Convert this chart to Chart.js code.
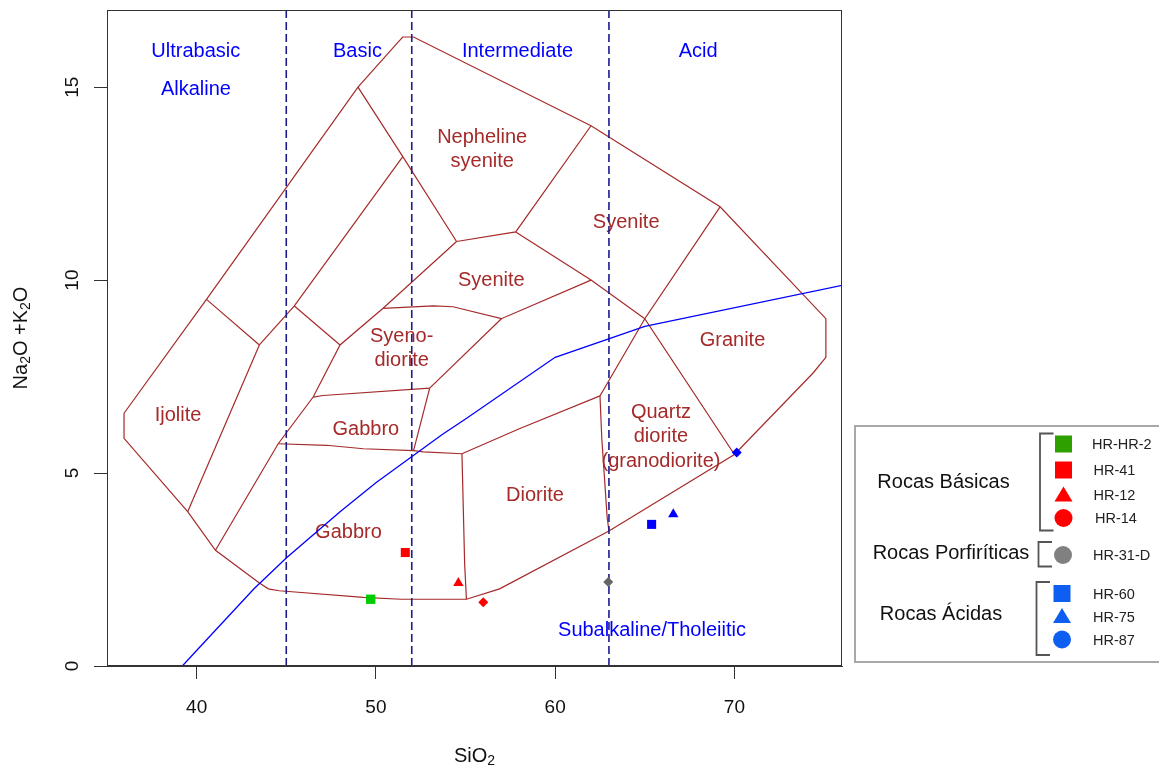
<!DOCTYPE html>
<html><head><meta charset="utf-8">
<script src="https://cdn.jsdelivr.net/npm/chart.js@4.4.1/dist/chart.umd.min.js"></script>
<style>html,body{margin:0;padding:0;background:#fff;overflow:hidden}</style>
</head><body>
<canvas id="c" width="1159" height="770"></canvas>
<script>
// ---------- axis ticks ----------
const xTicks = [40, 50, 60, 70];
const yTicks = [0, 5, 10, 15];
const divisionSiO2 = [45, 52, 63];

// ---------- samples ----------
const sampleNames = ['HR-HR-2', 'HR-41', 'HR-12', 'HR-14', 'HR-31-D', 'HR-60', 'HR-75', 'HR-87'];
const sampleSiO2 = [49.71, 51.64, 54.60, 55.99, 62.96, 65.38, 66.59, 70.13];
const sampleAlk  = [1.73, 2.94, 2.15, 1.65, 2.18, 3.67, 3.93, 5.53];

// ---------- Irvine & Baragar alkaline / subalkaline line ----------
const ibSiO2 = [39.2, 40, 43.2, 45, 48, 50, 53.7, 55, 60, 65, 77.4];
const ibAlk  = [0, 0.4, 2, 2.8, 4, 4.75, 6, 6.4, 8, 8.8, 10];

// ---------- field boundaries (SiO2, Na2O+K2O) ----------
const outerBoundary = [[35.95,6.55],[35.95,5.9],[39.5,4.0],[41.05,3.0],[43.5,2.15],[44.0,2.0],[44.6,1.95],[49.3,1.78],[51.4,1.73],[55.05,1.73],[56.9,2.0],[63.0,3.5],[70.0,5.48],[74.4,7.6],[75.1,8.0],[75.1,9.0],[69.2,11.9],[62.0,14.0],[52.1,16.3],[51.5,16.3],[51.2,16.15],[49.0,15.0],[40.55,9.5],[35.95,6.55]];
const ijoliteTop = [[40.55,9.5],[43.5,8.32]];
const ijoliteRight = [[43.5,8.32],[39.5,4.0]];
const foidLine = [[51.5,13.2],[45.45,9.33],[43.5,8.32]];
const foidInner = [[45.45,9.33],[48.0,8.32]];
const nephelineLeft = [[49.0,15.0],[51.5,13.2],[54.5,11.0]];
const nephelineBottom = [[54.5,11.0],[57.8,11.25],[62.0,14.0]];
const syeniteBottom = [[57.8,11.25],[62.0,10.0],[65.0,9.0]];
const syeniteRight = [[69.2,11.9],[65.0,9.0],[70.0,5.48]];
const syenodioriteLeft = [[54.5,11.0],[50.4,9.27],[48.0,8.32],[46.5,6.97],[44.55,5.76],[41.05,3.0]];
const syenodioriteTop = [[50.4,9.27],[53.2,9.33],[54.3,9.31],[57.0,9.0],[62.0,10.0]];
const syenodioriteRight = [[57.0,9.0],[53.0,7.2]];
const gabbroTop = [[46.5,6.97],[47.05,7.01],[53.0,7.2]];
const gabbroRight = [[53.0,7.2],[52.1,5.58]];
const gabbroBottom = [[44.55,5.76],[47.25,5.72],[49.3,5.63],[52.1,5.58],[52.65,5.55],[54.8,5.5]];
const dioriteLeft = [[54.8,5.5],[54.95,2.65],[55.05,1.73]];
const dioriteTop = [[54.8,5.5],[58.0,6.15],[62.5,7.0]];
const quartzDioriteLeft = [[65.0,9.0],[63.0,7.4],[62.5,7.0],[62.6,5.9],[62.9,3.85],[63.0,3.5]];

const boundaries = [outerBoundary, ijoliteTop, ijoliteRight, foidLine, foidInner, nephelineLeft, nephelineBottom,
  syeniteBottom, syeniteRight, syenodioriteLeft, syenodioriteTop, syenodioriteRight, gabbroTop, gabbroRight,
  gabbroBottom, dioriteLeft, dioriteTop, quartzDioriteLeft];

// ---------- text ----------
const fieldNames = ['Ijolite', 'Nepheline\nsyenite', 'Syenite', 'Syenite', 'Syeno-\ndiorite', 'Gabbro', 'Gabbro', 'Diorite', 'Quartz\ndiorite\n(granodiorite)', 'Granite'];
const zoneNames = ['Ultrabasic', 'Alkaline', 'Basic', 'Intermediate', 'Acid', 'Subalkaline/Tholeiitic'];
const groupNames = ['Rocas Básicas', 'Rocas Porfiríticas', 'Rocas Ácidas'];

// ---------- styles / layout (not data) ----------
const FONT = '"Liberation Sans", Arial, Helvetica, sans-serif';
const BROWN = '#A52A2A';
const fieldLabelPos = [[38.96,6.5],[55.93,13.39],[63.96,11.49],[56.44,10.0],[51.44,8.23],[49.44,6.12],[48.47,3.45],[58.87,4.43],[65.9,5.94],[69.89,8.43]];
const zoneLabelPos = [[39.95,15.92],[39.96,14.95],[48.97,15.92],[57.9,15.92],[67.98,15.92],[65.4,0.93]];
const sampleShape = ['rect','rect','triangle','rectRot','rectRot','rect','triangle','rectRot'];
const sampleRadius = [6.6,6.4,6,5,5,6.4,6,5];
const sampleColor = ['#00CD00','#FF0000','#FF0000','#FF0000','#666666','#0000FF','#0000FF','#0000FF'];
const legendColor = ['#2ea000','#FF0000','#FF0000','#FF0000','#808080','#0f5ef2','#0f5ef2','#0f5ef2'];
const legendShape = ['square','square','triangle','circle','circle','square','triangle','circle'];

// ---------- datasets ----------
const datasets = [];
sampleNames.forEach((n, i) => datasets.push({
  label: n, data: [{x: sampleSiO2[i], y: sampleAlk[i]}],
  pointStyle: sampleShape[i], pointRadius: sampleRadius[i],
  backgroundColor: sampleColor[i], borderColor: sampleColor[i], pointBorderWidth: 0, order: 0
}));
datasets.push({label: 'Irvine & Baragar', data: ibSiO2.map((x, i) => ({x, y: ibAlk[i]})),
  showLine: true, borderColor: '#0000FF', borderWidth: 1.3, pointRadius: 0, order: 1, clip: 0, tension: 0});
divisionSiO2.forEach(x => datasets.push({label: 'div', data: [{x, y: 0}, {x, y: 17}],
  showLine: true, borderColor: '#1c1c8c', borderWidth: 1.6, borderDash: [8, 4], pointRadius: 0, order: 2, clip: 0}));
boundaries.forEach(b => datasets.push({label: 'field', data: b.map(p => ({x: p[0], y: p[1]})),
  showLine: true, borderColor: BROWN, borderWidth: 1.2, pointRadius: 0, order: 3, tension: 0}));

// ---------- helpers ----------
function drawParts(ctx, parts, cx, cy, size, subSize, subDrop) {
  let total = 0;
  parts.forEach(p => { ctx.font = (p.sub ? subSize : size) + 'px ' + FONT; total += ctx.measureText(p.t).width; });
  let x = cx - total / 2;
  ctx.textAlign = 'left'; ctx.textBaseline = 'middle';
  parts.forEach(p => {
    ctx.font = (p.sub ? subSize : size) + 'px ' + FONT;
    ctx.fillText(p.t, x, cy + (p.sub ? subDrop : 0));
    x += ctx.measureText(p.t).width;
  });
}

const overlay = {
  id: 'overlay',
  beforeDatasetsDraw(chart) {
    const ctx = chart.ctx, xs = chart.scales.x, ys = chart.scales.y;
    ctx.save();
    ctx.textAlign = 'center'; ctx.textBaseline = 'middle';
    ctx.font = '20px ' + FONT;
    ctx.fillStyle = BROWN;
    fieldNames.forEach((t, i) => {
      const lines = t.split('\n');
      const px = xs.getPixelForValue(fieldLabelPos[i][0]);
      const py = ys.getPixelForValue(fieldLabelPos[i][1]);
      const lh = 24.5;
      lines.forEach((l, k) => ctx.fillText(l, px, py + (k - (lines.length - 1) / 2) * lh));
    });
    ctx.fillStyle = '#0000FF';
    zoneNames.forEach((t, i) => {
      ctx.fillText(t, xs.getPixelForValue(zoneLabelPos[i][0]), ys.getPixelForValue(zoneLabelPos[i][1]));
    });
    ctx.restore();
  },
  afterDraw(chart) {
    const ctx = chart.ctx, a = chart.chartArea;
    ctx.save();
    // plot box
    ctx.strokeStyle = '#333'; ctx.lineWidth = 1;
    ctx.strokeRect(Math.round(a.left) + 0.5, Math.round(a.top) + 0.5, Math.round(a.right - a.left) - 1, Math.round(a.bottom - a.top) - 1);
    // axis titles
    ctx.fillStyle = '#111';
    drawParts(ctx, [{t: 'SiO'}, {t: '2', sub: true}], (a.left + a.right) / 2, 756, 20, 14, 5);
    ctx.translate(21, (a.top + a.bottom) / 2);
    ctx.rotate(-Math.PI / 2);
    drawParts(ctx, [{t: 'Na'}, {t: '2', sub: true}, {t: 'O +'}, {t: 'K'}, {t: '2', sub: true}, {t: 'O'}], 0, 0, 20, 14, 5);
    ctx.restore();

    // legend
    ctx.save();
    ctx.strokeStyle = '#a8a8a8'; ctx.lineWidth = 2;
    ctx.strokeRect(855, 426, 400, 236);
    ctx.fillStyle = '#111'; ctx.textBaseline = 'middle'; ctx.textAlign = 'center';
    ctx.font = '20px ' + FONT;
    const groupY = [482, 553.5, 614.5], groupX = [943.5, 951, 941];
    groupNames.forEach((g, i) => ctx.fillText(g, groupX[i], groupY[i]));
    // brackets
    ctx.strokeStyle = '#555'; ctx.lineWidth = 1.8;
    const br = [[1040, 433.5, 530.5, 1053.5], [1038.5, 542, 566.5, 1052], [1036.5, 582, 655, 1050]];
    br.forEach(b => { ctx.beginPath(); ctx.moveTo(b[3], b[1]); ctx.lineTo(b[0], b[1]); ctx.lineTo(b[0], b[2]); ctx.lineTo(b[3], b[2]); ctx.stroke(); });
    const itemY = [444, 470, 495, 518, 555, 593.5, 616.5, 639.5];
    const itemX = [1063.5, 1063.5, 1063.5, 1063.5, 1063, 1062, 1062, 1062];
    const textX = [1092, 1093.5, 1093.5, 1095, 1093, 1093, 1093, 1093];
    sampleNames.forEach((n, i) => {
      const x = itemX[i], y = itemY[i];
      ctx.fillStyle = legendColor[i];
      ctx.beginPath();
      if (legendShape[i] === 'square') ctx.rect(x - 8.5, y - 8.5, 17, 17);
      else if (legendShape[i] === 'triangle') { ctx.moveTo(x, y - 8.5); ctx.lineTo(x + 9, y + 6.5); ctx.lineTo(x - 9, y + 6.5); ctx.closePath(); }
      else ctx.arc(x, y, 9, 0, Math.PI * 2);
      ctx.fill();
      ctx.fillStyle = '#222'; ctx.textAlign = 'left'; ctx.font = '14.5px ' + FONT;
      ctx.fillText(n, textX[i], y + 1);
    });
    ctx.restore();
  }
};

new Chart(document.getElementById('c'), {
  type: 'scatter',
  data: {datasets},
  options: {
    responsive: false, animation: false, devicePixelRatio: 1, events: [],
    layout: {padding: {left: 0, top: 10, right: 317, bottom: 0}},
    plugins: {legend: {display: false}, tooltip: {enabled: false}},
    scales: {
      x: {
        type: 'linear', min: 35, max: 76, position: 'bottom',
        afterBuildTicks: s => { s.ticks = xTicks.map(v => ({value: v})); },
        afterFit: s => { s.height = 104; s.paddingLeft = 0; s.paddingRight = 0; },
        grid: {drawOnChartArea: false, drawTicks: true, tickLength: 13, color: '#333', tickColor: '#333'},
        border: {display: true, color: '#333', width: 1},
        ticks: {font: {family: FONT, size: 19}, color: '#111', padding: 17, maxRotation: 0, autoSkip: false}
      },
      y: {
        type: 'linear', min: 0, max: 17, position: 'left',
        afterBuildTicks: s => { s.ticks = yTicks.map(v => ({value: v})); },
        afterFit: s => { s.width = 107; s.paddingTop = 0; s.paddingBottom = 0; },
        grid: {drawOnChartArea: false, drawTicks: true, tickLength: 13, color: '#333', tickColor: '#333'},
        border: {display: true, color: '#333', width: 1},
        ticks: {font: {family: FONT, size: 19}, color: '#111', padding: 11, minRotation: 90, maxRotation: 90, crossAlign: 'center', autoSkip: false}
      }
    }
  },
  plugins: [overlay]
});
</script>
</body></html>
